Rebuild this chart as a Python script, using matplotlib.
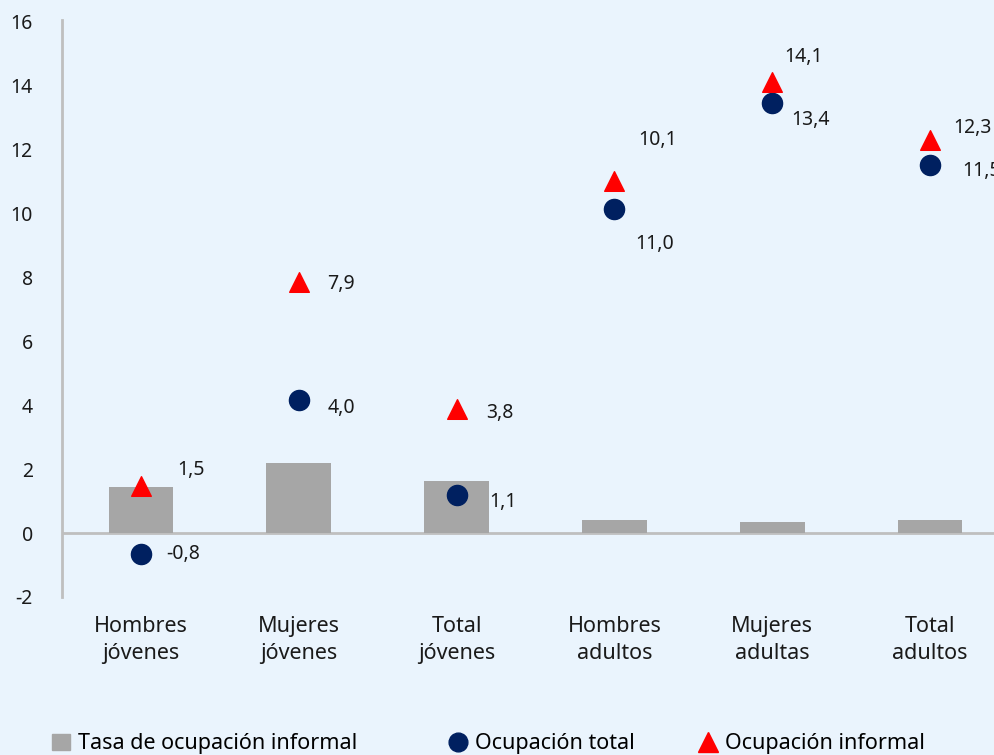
import matplotlib.pyplot as plt
from matplotlib.lines import Line2D
from matplotlib.patches import Patch

categorias = ["Hombres\njóvenes", "Mujeres\njóvenes", "Total\njóvenes",
              "Hombres\nadultos", "Mujeres\nadultas", "Total\nadultos"]
tasa_informal = [1.44, 2.19, 1.63, 0.41, 0.34, 0.41]
ocup_total = [-0.66, 4.16, 1.19, 10.13, 13.44, 11.5]
ocup_informal = [1.47, 7.84, 3.88, 11.0, 14.1, 12.3]
etiq_total = ["-0,8", "4,0", "1,1", "11,0", "13,4", "11,5"]
etiq_informal = ["1,5", "7,9", "3,8", "10,1", "14,1", "12,3"]

# desplazamientos de las etiquetas (pixeles, borde izquierdo)
off_total = [(25, 0), (29, -8), (33, -7), (21, -35), (19, -17), (32, -6)]
off_informal = [(36, 16), (28, -2), (30, -4), (24, 41), (12, 25), (23, 12)]

FONDO = "#EAF4FD"
GRIS = "#A6A6A6"
AZUL = "#002060"
ROJO = "#FF0000"
EJE = "#BFBFBF"

plt.rcParams['font.family'] = ['Noto Sans', 'DejaVu Sans']
plt.rcParams['axes.unicode_minus'] = False

fig = plt.figure(figsize=(9.95, 7.55), dpi=100, facecolor=FONDO)
ax = fig.add_axes([62 / 995, 158 / 755, 947 / 995, 577 / 755])
ax.set_facecolor(FONDO)

x = list(range(len(categorias)))
ax.bar(x, tasa_informal, width=0.41, color=GRIS, zorder=2)
ax.axhline(0, color=EJE, lw=2, zorder=1)
ax.scatter(x, ocup_total, s=210, marker='o', color=AZUL, zorder=3)
ax.scatter(x, ocup_informal, s=200, marker='^', color=ROJO, zorder=3)

for i in x:
    ax.annotate(etiq_total[i], (i, ocup_total[i]), xytext=off_total[i],
                textcoords='offset pixels', ha='left', va='center', fontsize=14, color='#1a1a1a')
    ax.annotate(etiq_informal[i], (i, ocup_informal[i]), xytext=off_informal[i],
                textcoords='offset pixels', ha='left', va='center', fontsize=14, color='#1a1a1a')

ax.set_xlim(-0.5, 5.5)
ax.set_ylim(-2, 16.05)
ax.set_yticks(range(-2, 17, 2))
ax.set_xticks(x)
ax.set_xticklabels(categorias, linespacing=1.35, fontsize=15.5)
ax.tick_params(axis='both', length=0, labelsize=14, colors='#1a1a1a')
ax.tick_params(axis='x', labelsize=15.5, pad=14)
ax.tick_params(axis='y', pad=21)
for s in ['top', 'right', 'bottom']:
    ax.spines[s].set_visible(False)
ax.spines['left'].set_color(EJE)
ax.spines['left'].set_linewidth(2)

items = [
    (Patch(color=GRIS), "Tasa de ocupación informal", 52 / 995),
    (Line2D([], [], marker='o', ls='', color=AZUL, markersize=13.5), "Ocupación total", 449 / 995),
    (Line2D([], [], marker='^', ls='', color=ROJO, markersize=14), "Ocupación informal", 699 / 995),
]
for h, lab, xpos in items:
    fig.legend([h], [lab], loc='center left', bbox_to_anchor=(xpos, 11 / 755),
               frameon=False, fontsize=15.5, handlelength=0.85, handletextpad=0.35,
               borderpad=0, borderaxespad=0)

fig.savefig("out.png", dpi=100, facecolor=FONDO)
